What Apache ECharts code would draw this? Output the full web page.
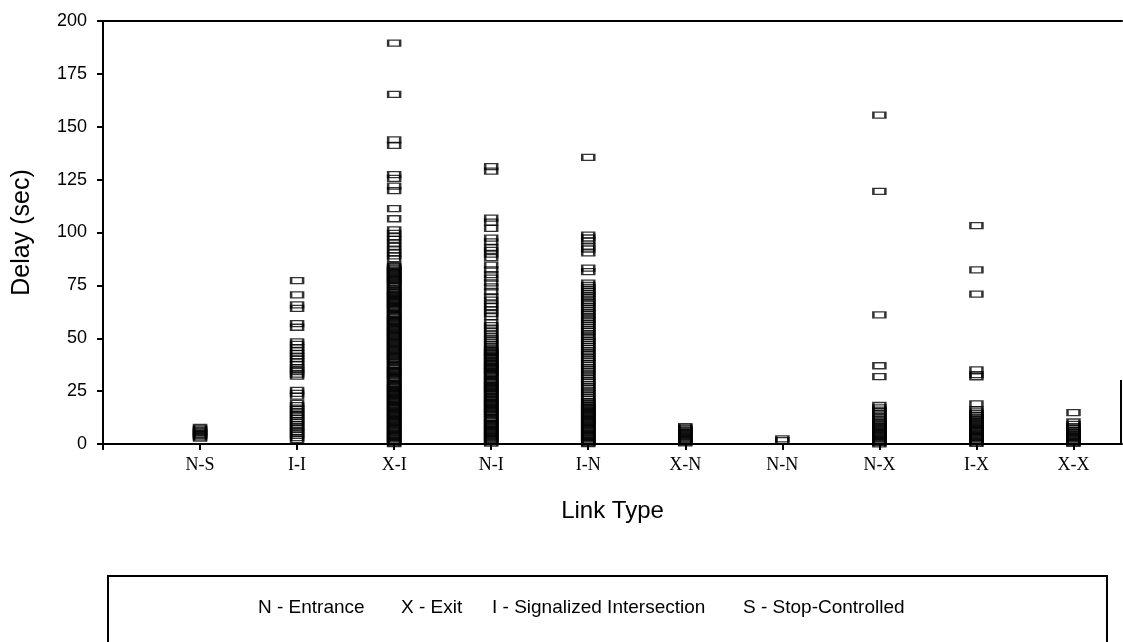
<!DOCTYPE html>
<html>
<head>
<meta charset="utf-8">
<title>Delay by Link Type</title>
<script src="https://cdn.jsdelivr.net/npm/echarts@6/dist/echarts.min.js"></script>
<style>
  html, body { margin: 0; padding: 0; background: #fff; }
  #chart { width: 1123px; height: 642px; }
</style>
</head>
<body>
<div id="chart"></div>
<script>
// Link type codes along the horizontal axis (positions 1..10)
const linkTypes = ['N-S', 'I-I', 'X-I', 'N-I', 'I-N', 'X-N', 'N-N', 'N-X', 'I-X', 'X-X'];

// Delay axis ticks (sec)
const delayTicks = [0, 25, 50, 75, 100, 125, 150, 175, 200];

// Key to the link type codes
const legendEntries = ['N - Entrance', 'X - Exit', 'I - Signalized Intersection', 'S - Stop-Controlled'];

// Observed delays (sec) per link type
const delayNS = [2.8, 3.4, 4.1, 4.6, 5.2, 5.9, 6.5, 7.1, 7.8];

const delayII = [77.2, 70.5, 65.8, 64.1, 56.9, 55.2, 48.3, 47.1, 45.6, 44.0, 42.8, 41.5, 40.2, 38.9,
  37.6, 36.1, 35.3, 34.2, 33.0, 32.1, 25.4, 23.9, 22.6, 19.2, 18.1, 17.0, 16.2, 15.1, 14.0, 13.2,
  12.1, 11.0, 10.2, 9.1, 8.0, 7.1, 6.0, 5.2, 4.1, 3.0, 2.1];

const delayXI = [189.5, 165.3, 143.8, 141.2, 127.4, 125.6, 121.9, 119.8, 111.3, 106.5, 101.2, 99.6,
  98.1, 96.7, 95.0, 93.4, 91.8, 90.3, 88.9, 87.6,
  84.4, 83.9, 83.3, 82.8, 82.2, 81.7, 81.1, 80.6, 80.0, 79.5, 78.9, 78.4, 77.8, 77.3, 76.7, 76.2,
  75.6, 75.1, 74.5, 73.3, 72.8, 72.3, 71.7, 71.2, 70.6, 70.1, 69.5, 69.0, 68.4, 67.9, 67.3, 66.8,
  66.2, 65.7, 65.1, 64.6, 64.0, 63.5, 62.9, 61.7, 61.2, 60.7, 60.1, 59.6, 59.0, 58.5, 57.9, 57.4,
  56.8, 56.3, 55.7, 55.2, 54.6, 54.1, 53.5, 53.0, 52.4, 51.9, 51.3, 50.8, 50.2, 49.7, 49.1, 48.6,
  48.0, 47.5, 46.9, 46.4, 45.8, 45.3, 44.7, 44.2, 43.6, 43.1, 42.5, 42.0, 41.4, 40.9, 40.3, 39.8,
  39.2, 38.7, 37.5, 37.0, 36.5, 35.9, 35.4, 34.8, 34.3, 33.7, 33.2, 32.6, 32.1, 31.5, 31.0, 30.4,
  29.9, 28.7, 28.2, 27.7, 27.1, 26.6, 26.0, 25.5, 24.9, 24.4, 23.8, 23.3, 22.7, 22.2, 21.6, 21.1,
  20.5, 20.0, 19.4, 18.9, 18.3, 17.8, 17.2, 16.7, 16.1, 15.6, 15.0, 14.5, 13.9, 13.4, 12.8, 12.3,
  11.7, 11.2, 10.6, 10.1, 9.5, 9.0, 8.4, 7.9, 7.3, 6.8, 6.2, 5.7, 5.1, 4.6, 4.0, 3.5, 2.9, 2.4,
  1.8, 1.3, 0.7, 0.2];

const delayNI = [131.2, 129.0, 106.8, 104.9, 102.0, 97.3, 95.6, 93.0, 91.5, 89.8, 88.1, 84.6, 82.3,
  80.1, 78.4, 76.2, 74.3, 72.1, 69.6, 68.0, 66.2, 64.9, 63.4, 61.7, 60.2, 57.3, 56.0, 54.8, 53.5,
  52.1, 51.0, 49.8, 48.9, 47.8, 46.9, 45.8, 44.9,
  44.3, 43.8, 43.2, 42.7, 42.1, 41.6, 41.0, 40.5, 39.4, 38.9, 38.3, 37.8, 37.2, 36.7, 36.1, 35.6,
  35.0, 34.5, 33.9, 33.4, 32.8, 32.3, 31.7, 30.6, 30.1, 29.5, 29.0, 28.4, 27.9, 27.3, 26.8, 26.2,
  25.7, 25.1, 24.6, 24.0, 23.5, 22.4, 21.9, 21.3, 20.8, 20.2, 19.7, 19.1, 18.6, 18.0, 17.5, 16.9,
  16.4, 15.8, 15.3, 14.7, 14.2, 13.6, 12.5, 12.0, 11.4, 10.9, 10.3, 9.8, 9.2, 8.7, 8.1, 7.6, 7.0,
  6.5, 5.9, 5.4, 4.8, 4.3, 3.7, 3.2, 2.6, 2.1, 1.5, 1.0, 0.4];

const delayIN = [135.5, 98.8, 97.4, 96.0, 93.6, 92.2, 90.4, 83.2, 81.5,
  76.1, 75.0, 74.1, 73.0, 72.1, 71.0, 70.0, 69.1, 68.0, 67.0, 66.1, 65.0, 64.1, 63.0, 62.0, 61.1,
  60.0, 59.0, 58.1, 57.0, 56.1, 55.0, 54.0, 53.1, 52.0, 51.0, 50.1, 49.0, 48.1, 47.0, 46.0, 45.1,
  44.0, 43.0, 42.1, 41.0, 40.1, 39.0, 38.0, 37.1, 36.0, 35.0, 34.1, 33.0, 32.1, 31.0, 30.0, 29.1,
  28.0, 27.0, 26.1, 25.0, 24.1, 23.0, 22.0, 21.1, 20.0,
  19.4, 18.9, 18.3, 17.8, 17.2, 16.7, 16.1, 15.6, 15.0, 14.5, 13.9, 13.4, 12.8, 12.3, 11.7, 11.2,
  10.6, 10.1, 9.5, 9.0, 8.4, 7.9, 7.3, 6.8, 6.2, 5.7, 5.1, 4.6, 4.0, 3.5, 2.9, 2.4, 1.8, 1.3, 0.7,
  0.2];

const delayXN = [8.2, 7.6, 7.1, 6.5, 6.0, 5.4, 4.9, 4.3, 3.8, 3.2, 2.7, 2.1, 1.6, 1.0, 0.5];

const delayNN = [1.6, 2.4];

const delayNX = [155.5, 119.4, 61.0, 37.0, 31.9, 18.2, 17.1, 16.0, 15.2, 14.3, 13.2, 12.4, 11.3,
  10.5, 10.0, 9.4, 8.9, 8.3, 7.8, 7.2, 6.7, 6.1, 5.6, 5.0, 4.5, 3.9, 3.4, 2.8, 2.3, 1.7, 1.2, 0.6,
  0.1];

const delayIX = [103.2, 82.3, 70.9, 35.0, 32.8, 31.8, 19.0, 16.3, 15.2, 14.4, 13.5, 12.7,
  11.9, 11.3, 10.8, 10.2, 9.7, 9.1, 8.6, 8.0, 7.5, 6.9, 6.4, 5.8, 5.3, 4.7, 4.2, 3.6, 3.1, 2.5,
  2.0, 1.4, 0.9, 0.3];

const delayXX = [14.8, 10.4, 9.3, 8.2, 7.4, 6.5, 5.8, 5.2, 4.7, 4.1, 3.6, 3.0, 2.5, 1.9, 1.4, 0.8,
  0.3];

const delaysByLink = [delayNS, delayII, delayXI, delayNI, delayIN, delayXN, delayNN, delayNX, delayIX, delayXX];

// Pair every delay with the axis position of its link type
const points = [];
delaysByLink.forEach(function (vals, i) {
  vals.forEach(function (v) { points.push([i + 1, v]); });
});

// Tick positions: the origin plus one per link type
const xTickValues = [0].concat(linkTypes.map(function (_, i) { return i + 1; }));

const ink = '#000';
const chart = echarts.init(document.getElementById('chart'), null, { renderer: 'canvas' });

// Key entries laid out left to right inside the boxed note
const legendX = [258, 401, 492, 743];
const legendGraphics = legendEntries.map(function (t, i) {
  return {
    type: 'text', left: legendX[i], top: 598,
    style: { text: t, font: '19px "Liberation Sans", Arial, sans-serif', fill: ink }
  };
});

chart.setOption({
  animation: false,
  backgroundColor: '#fff',
  grid: { left: 103, right: 1, top: 21, bottom: 198, containLabel: false },
  xAxis: [{
    type: 'value',
    min: 0, max: 10.5, interval: 1,
    name: 'Link Type',
    nameLocation: 'middle',
    nameGap: 55,
    nameTextStyle: { fontFamily: '"Liberation Sans", Arial, sans-serif', fontSize: 24, color: ink },
    axisLine: { show: true, onZero: false, lineStyle: { color: ink, width: 2 } },
    axisTick: { show: true, length: 6, customValues: xTickValues, lineStyle: { color: ink, width: 2 } },
    splitLine: { show: false },
    axisLabel: {
      margin: 12,
      customValues: xTickValues,
      fontFamily: '"Liberation Serif", "Times New Roman", serif',
      fontSize: 18, color: ink,
      formatter: function (v) { return linkTypes[v - 1] || ''; }
    }
  }, {
    type: 'value', position: 'top',
    min: 0, max: 10.5,
    axisLine: { show: true, onZero: false, lineStyle: { color: ink, width: 2 } },
    axisTick: { show: false }, axisLabel: { show: false }, splitLine: { show: false }
  }],
  yAxis: {
    type: 'value',
    min: delayTicks[0], max: delayTicks[delayTicks.length - 1], interval: 25,
    name: 'Delay (sec)',
    nameLocation: 'middle',
    nameGap: 68,
    nameTextStyle: { fontFamily: '"Liberation Sans", Arial, sans-serif', fontSize: 25, color: ink },
    axisLine: { show: true, onZero: false, lineStyle: { color: ink, width: 2 } },
    axisTick: { show: true, length: 6, lineStyle: { color: ink, width: 2 } },
    splitLine: { show: false },
    axisLabel: {
      margin: 16,
      fontFamily: '"Liberation Sans", Arial, sans-serif',
      fontSize: 18, color: ink
    }
  },
  series: [{
    type: 'scatter',
    data: points,
    symbol: 'rect',
    symbolSize: [12, 6],
    silent: true,
    itemStyle: { color: 'rgba(0,0,0,0)', borderColor: ink, borderWidth: 1.8 }
  }],
  graphic: [
    // right frame edge near the baseline
    { type: 'line', shape: { x1: 1121, y1: 380, x2: 1121, y2: 444 }, style: { stroke: ink, lineWidth: 2 } },
    // boxed note below the chart
    { type: 'rect', shape: { x: 108, y: 576, width: 999, height: 100 }, style: { fill: 'none', stroke: ink, lineWidth: 2 } }
  ].concat(legendGraphics)
});
</script>
</body>
</html>
